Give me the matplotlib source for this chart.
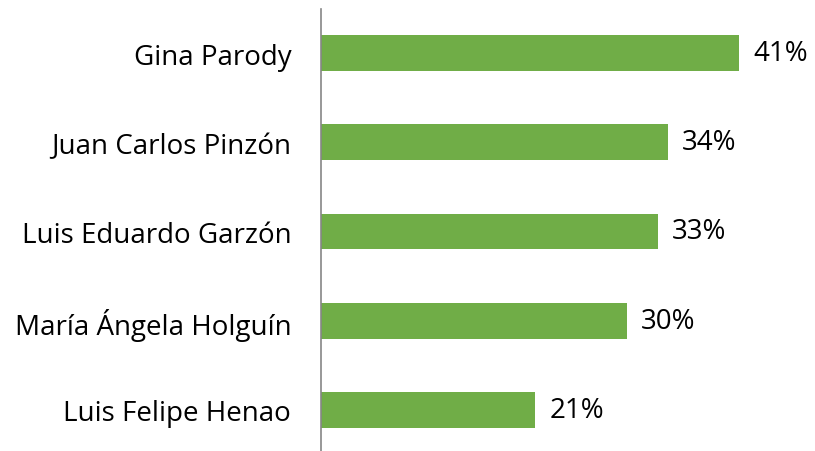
import matplotlib.pyplot as plt

names = ['Gina Parody', 'Juan Carlos Pinzón', 'Luis Eduardo Garzón',
         'María Ángela Holguín', 'Luis Felipe Henao']
values = [41, 34, 33, 30, 21]
labels = ['41%', '34%', '33%', '30%', '21%']

plt.rcParams['font.family'] = ['Open Sans', 'DejaVu Sans']

fig = plt.figure(figsize=(8.15, 4.52), dpi=100)
ax = fig.add_axes([321/815, 1 - 455.5/452, 459/815, 446/452])

pos = list(range(len(names)))
ax.barh(pos, values, height=0.4, color='#70AD47')
ax.set_ylim(len(names) - 0.5, -0.5)
ax.set_xlim(0, 45)

for p, v, t in zip(pos, values, labels):
    ax.text(v + 1.4, p, t, va='center', ha='left', fontsize=20, color='#000000')

ax.set_yticks(pos)
ax.set_yticklabels(names, fontsize=20)
ax.tick_params(axis='y', length=0, pad=21.5)
ax.set_xticks([])
for s in ['top', 'right', 'bottom']:
    ax.spines[s].set_visible(False)
ax.spines['left'].set_color('#868686')
ax.spines['left'].set_linewidth(1.2)

plt.savefig('out.png', dpi=100)
